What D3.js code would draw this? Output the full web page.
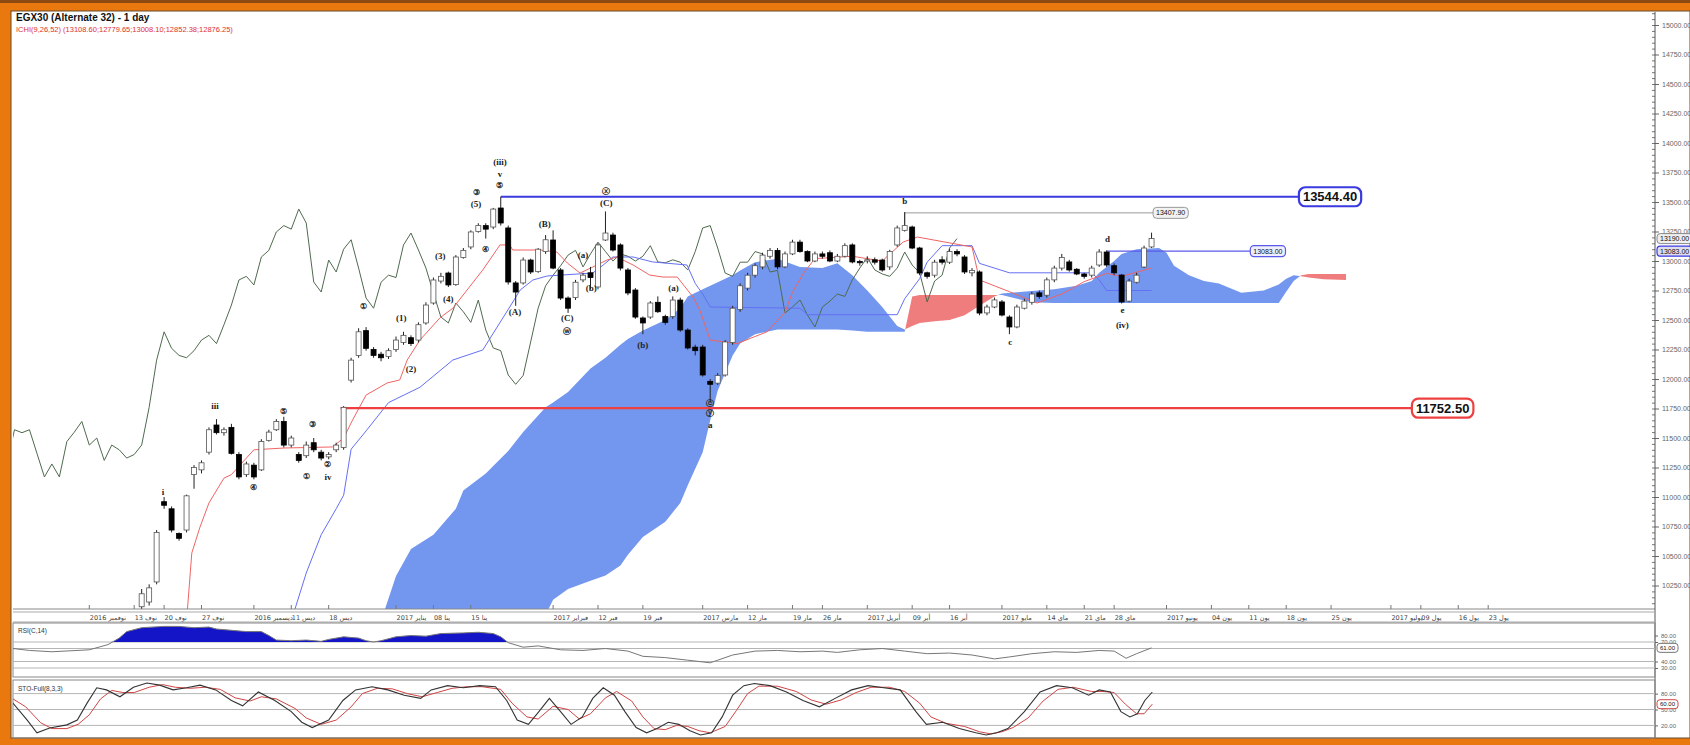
<!DOCTYPE html>
<html><head><meta charset="utf-8">
<script src="https://cdn.jsdelivr.net/npm/d3@7"></script>
<style>html,body{margin:0;padding:0;background:#fff;overflow:hidden}</style>
</head><body>
<svg id="c" width="1690" height="745"></svg>
<script>
// ---------------- DATA ----------------
const open  = [10070,10110,10280,10960,10900,10690,10720,11190,11230,11380,11610,11545,11590,11360,11190,11270,11230,11480,11570,11640,11440,11360,11350,11460,11380,11340,11400,11420,11990,12200,12410,12250,12210,12190,12250,12310,12350,12330,12475,12644,12830,12898,12800,13030,13119,13250,13300,13288,13449,13280,12814,12814,13008,12910,13080,13178,12924,12686,12690,12840,12900,12780,13178,13220,13136,12924,12754,12517,12525,12650,12530,12530,12669,12415,12270,12271,11980,11965,12034,12310,12590,12770,12880,12950,13040,13090,12950,13060,13160,13080,13000,13060,13070,13000,13040,13136,12995,13000,13010,13008,12950,13136,13260,13288,13110,12900,12880,13010,12990,13080,13034,12900,12907,12560,12610,12653,12525,12441,12600,12650,12730,12710,12840,12940,12992,12930,12890,12880,12966,13076,12960,12881,12660,12820,12949,13119];
const high  = [10220,10260,10720,11000,10920,10700,11020,11270,11310,11590,11660,11590,11620,11380,11300,11290,11490,11570,11660,11680,11520,11380,11470,11500,11400,11380,11460,11770,12180,12430,12440,12270,12230,12260,12360,12400,12370,12480,12650,12860,12900,12910,13050,13110,13260,13320,13320,13450,13544,13300,12830,13030,13020,13110,13220,13260,12940,12700,12840,12900,12950,13150,13420,13240,13150,12940,12770,12530,12660,12700,12545,12700,12690,12430,12290,12290,12000,12050,12330,12620,12810,12900,12980,13070,13110,13110,13080,13180,13180,13090,13080,13080,13090,13060,13150,13150,13010,13040,13030,13020,13095,13300,13415,13300,13120,12910,13010,13040,13100,13100,13050,12940,12920,12630,12690,12670,12540,12630,12680,12740,12750,12860,12960,13060,13010,12940,12900,12960,13100,13090,12980,12890,12850,12900,13130,13240];
const low   = [10040,10080,10260,10900,10700,10630,10700,11070,11200,11360,11530,11520,11360,11150,11170,11150,11220,11470,11560,11420,11420,11290,11330,11380,11310,11320,11380,11400,11970,12180,12240,12180,12150,12170,12230,12290,12280,12310,12460,12630,12810,12780,12790,13020,13100,13240,13190,13270,13300,12800,12620,12800,12890,12900,13060,12930,12670,12560,12670,12820,12760,12760,13170,13080,12920,12710,12510,12380,12510,12560,12460,12510,12400,12250,12200,12020,11800,11950,12020,12290,12570,12750,12860,12930,13020,12930,12940,13050,13070,12990,12990,13020,12990,12990,13030,12980,12960,12980,12970,12910,12925,13120,13250,13100,12880,12850,12860,12970,12975,13040,12890,12870,12540,12540,12600,12530,12380,12430,12590,12630,12680,12690,12820,12920,12910,12880,12850,12860,12950,12950,12880,12640,12650,12810,12940,13110];
const close = [10180,10230,10700,10930,10720,10650,11010,11250,11290,11570,11545,11570,11370,11170,11280,11170,11470,11550,11640,11440,11500,11310,11440,11400,11330,11360,11440,11760,12160,12400,12260,12200,12180,12240,12330,12370,12300,12460,12627,12839,12870,12797,13034,13090,13246,13300,13270,13440,13322,12822,12737,13008,12907,13100,13180,12940,12686,12600,12820,12880,12860,13136,13237,13093,12940,12729,12525,12475,12644,12570,12480,12669,12415,12263,12240,12034,11955,12030,12314,12600,12790,12880,12960,13050,13090,12950,13060,13160,13080,13000,13060,13040,13000,13040,13130,12992,12985,13010,12990,12924,13080,13280,13300,13110,12898,12870,12990,12990,13080,13060,12907,12920,12559,12610,12670,12542,12441,12610,12660,12720,12700,12840,12940,13030,12924,12890,12870,12940,13076,12966,12900,12653,12830,12880,13110,13190];

// Ichimoku lines: [bar index, value]
const tenkan = [[6,9950],[6.7,10525],[7.8,10746],[9,10950],[11,11160],[12,11190],[15,11400],[19,11415],[25.5,11424],[27,11500],[28.2,11653],[30,11864],[32.8,11966],[34.5,11992],[35.5,12161],[37.2,12330],[39.9,12520],[41.6,12600],[43.5,12754],[45.6,12924],[47.9,13136],[49.2,13136],[49.6,13093],[53.3,13093],[55.5,13076],[56.9,12983],[58.6,12898],[60.3,12949],[62.2,13008],[63.5,13034],[65.7,12966],[67.9,12881],[69.7,12864],[71.6,12864],[73.7,12695],[74.6,12585],[76,12330],[79.6,12300],[83.6,12400],[86,12565],[87,12735],[88.5,12900],[90,13020],[95,13040],[99,13000],[101.8,13161],[103.7,13203],[111,13119],[112,12839],[116,12740],[119.7,12644],[123,12720],[126,12825],[129,12895],[131,12870],[135,12940]];
const kijun  = [[20,9950],[22,10356],[24,10680],[26,10900],[27,11015],[28,11405],[30,11560],[33,11800],[37.2,11930],[41.6,12161],[45.6,12246],[49.2,12610],[50.6,12754],[52.3,12839],[54.2,12873],[60.3,12898],[61.7,12966],[63,13034],[65.7,13034],[68.3,12992],[72.9,12966],[74,12810],[75,12720],[76,12610],[88,12600],[89,12545],[101,12545],[102,12680],[104,12850],[105,12990],[107,13130],[111,13130],[112,12980],[116,12900],[127,12900],[128,12840],[129,12750],[135,12750]];
const cloudIdx = [32,34,36,39,42,43,46,49,51,54,55,57,60,62,64,65,67,70,72,73,75,76,77,78,79,80,82,85,88,91,93,95,97,99,101,102,103,104,106,108,110,112,114,115,117,119,122,125,127,128,130,131,133,136,137,138,140,142,144,147,150,152,153,154,155,156,158,161];
const spanA = [9950,10330,10560,10680,10900,11056,11200,11390,11550,11760,11800,11890,12090,12180,12290,12340,12410,12500,12600,12700,12760,12790,12820,12850,12880,12920,12990,13020,12950,12940,12980,12880,12750,12610,12450,12420,12450,12475,12490,12500,12540,12620,12700,12725,12735,12745,12760,12790,12830,12900,13000,13060,13100,13110,13070,12960,12880,12830,12810,12730,12750,12800,12850,12880,12870,12860,12845,12840];
const spanB = [9600,9650,9700,9750,9800,9820,9860,9900,9950,10000,10130,10220,10290,10335,10420,10510,10660,10790,10950,11100,11380,11650,11900,12050,12200,12300,12380,12420,12420,12420,12420,12410,12400,12400,12400,12400,12700,12712,12712,12712,12712,12712,12712,12712,12680,12650,12644,12644,12644,12644,12644,12644,12644,12644,12644,12644,12644,12644,12644,12644,12644,12644,12740,12830,12880,12890,12890,12890];

const rsi = [[-17.2,60],[-15,57],[-12,55],[-7,58],[-4.5,66],[-3,76],[-2,86],[0,92],[3,94],[5,94],[7,92],[9,93],[10,90],[12,88],[14,86],[16,86],[17,80],[18,73],[20,72],[22,73],[24,71],[25,74],[27,78],[29,76],[30,72],[31,70],[32,72],[34,78],[36,80],[38,79],[40,83],[43,84],[45,85],[47,83],[48,78],[49,69],[51,62],[53,64],[56,58],[59,57],[62,60],[65,56],[67,48],[70,46],[73,42],[76,38],[79,50],[82,56],[85,57],[88,55],[91,56],[93,54],[96,58],[99,60],[102,56],[105,52],[108,53],[111,50],[114,44],[116,47],[119,52],[122,55],[125,54],[128,57],[130,56],[131.6,45],[133,52],[135,61]];
const stoK = [[-18.9,68],[-17.2,62],[-15.3,30],[-14,6],[-12.3,15],[-10,21],[-8.6,30],[-7.3,62],[-6,91],[-4.7,87],[-2.9,74],[-1.1,92],[0.7,100],[2.4,96],[4.2,87],[6,91],[7.8,96],[9.9,87],[12,67],[13.5,57],[15.6,83],[17.8,67],[20,46],[21.4,26],[22.8,16],[25,30],[26.9,67],[28.6,87],[30.8,93],[32.9,87],[35.1,77],[37.3,71],[38.7,87],[40.9,95],[43,91],[45.2,95],[47.3,93],[48.8,67],[50.2,30],[51.7,22],[53.1,46],[54.5,71],[56,46],[57.4,22],[58.9,36],[60.3,71],[61.7,91],[63.2,77],[64.6,46],[66.1,16],[67.5,6],[68.9,14],[70.4,26],[71.8,22],[73.3,10],[74.7,2],[76.2,6],[77.6,36],[79,77],[80.5,95],[81.9,99],[84,95],[86.2,83],[88.4,67],[90.6,55],[92.7,71],[94.9,87],[97.1,95],[99.2,91],[101.4,87],[103.5,46],[104.9,22],[107.1,26],[109.3,14],[111.5,6],[112.9,2],[114.3,6],[115.8,14],[118,46],[120.1,83],[122.3,95],[124.4,91],[126.6,77],[128,87],[129.5,83],[130.9,46],[132.1,36],[133.1,42],[134.1,67],[135.1,83]];
const stoD = [[-17.2,70],[-15.5,55],[-13.5,25],[-12,14],[-10,14],[-8.5,22],[-7,40],[-5.5,70],[-4,86],[-2.5,82],[-1,82],[1,92],[2.8,97],[4.5,92],[6.5,90],[8.5,92],[10.5,88],[12.5,72],[14.5,66],[16,74],[18,70],[20.5,52],[22,34],[24,22],[26,30],[28,55],[29.5,80],[31.5,90],[33.5,89],[35.5,80],[37.5,74],[39.5,82],[41.5,90],[43.5,93],[45.5,93],[48,88],[49.5,62],[51.5,36],[53,32],[55,56],[57,50],[58.5,32],[60,42],[62,72],[63.5,84],[65.5,66],[67,36],[68.5,14],[70,12],[71.5,20],[73,18],[74.5,10],[76,6],[78,18],[79.5,48],[81,80],[82.5,94],[85,94],[87.5,84],[89.5,68],[91.5,60],[93.5,68],[95.5,82],[97.5,92],[100,92],[102,84],[104,62],[105.5,36],[107.5,24],[110,18],[112,8],[113.5,4],[115,8],[116.5,16],[118.5,34],[120.5,66],[122.5,88],[124.5,92],[127,84],[128.5,84],[130,82],[131.5,60],[133,42],[134,42],[135.1,60]];

const priceTicks = [10250,10500,10750,11000,11250,11500,11750,12000,12250,12500,12750,13000,13250,13500,13750,14000,14250,14500,14750,15000];
const rsiTicks = [80,70,40,30];
const stoTicks = [80,50,20];
const tickIdx  = [-7,-1,3,8,15,20,25,34,39,44,55,61,67,75,81,87,91,97,103,108,115,121,126,130,137,143,148,153,159,167,171,176,180];
const tickText = ["2016 نوفمبر","13 نوف","20 نوف","27 نوف","2016 ديسمبر","11 ديس","18 ديس","2017 يناير","08 ينا","15 ينا","2017 فبراير","12 فبر","19 فبر","2017 مارس","12 مار","19 مار","26 مار","2017 أبريل","09 أبر","16 أبر","2017 مايو","14 ماي","21 ماي","28 ماي","2017 يونيو","04 يون","11 يون","18 يون","25 يون","2017 يوليو","09 يول","16 يول","23 يول"];

const levels = [13544.40, 11752.50, 13407.90, 13083.00];

const waveIdx = [47.9,47.9,47.9,44.7,44.7,45.9,39.9,41,34.7,36,29.6,49.9,53.9,56.9,56.9,59,60.1,62.1,62.1,71.1,67,76,76,76,102,116.1,129.1,131.1,131.1,2.85,9.8,14.9,18.9,22.9,22.1,24.9,24.9];
const waveVal = [13831,13729,13636,13576,13475,13093,13034,12669,12508,12076,12610,12559,13305,12508,12398,13042,12763,13585,13483,12763,12280,11790,11700,11600,13500,12305,13178,12576,12449,11034,11763,11076,11720,11610,11169,11271,11160];
const waveText = ["(iii)","v","⑤","③","(5)","④","(3)","(4)","(1)","(2)","①","(A)","(B)","(C)","ⓦ","(a)","(b)","ⓧ","(C)","(a)","(b)","ⓒ","ⓨ","a","b","c","d","e","(iv)","i","iii","④","⑤","③","①","②","iv"];

// ---------------- SCALES ----------------
const W = 1690, H = 745;
const PX0 = 13, PX1 = 1655, PY0 = 12, PY1 = 609;
const RY0 = 623, RY1 = 677, SY0 = 680, SY1 = 738;
const xi = d3.scaleLinear().domain([-17.2, 202.3]).range([PX0, PX1]);
const yP = d3.scaleLinear().domain([10250, 15000]).range([585.5, 25]);
const yR = d3.scaleLinear().domain([30, 70]).range([668, 642]);
const yS = d3.scaleLinear().domain([0, 100]).range([736, 683]);

const svg = d3.select('#c');
const defs = svg.append('defs');

// frame
svg.append('rect').attr('width', W).attr('height', H).attr('fill', '#e9780f');
svg.append('rect').attr('width', W).attr('height', 3).attr('fill', '#8c4a12');
svg.append('rect').attr('x', 11).attr('y', 11).attr('width', W - 11).attr('height', SY1 - 11)
  .attr('fill', '#fff').attr('stroke', '#6b4a2a').attr('stroke-width', 1);

// clip paths
defs.append('clipPath').attr('id', 'clipP').append('rect')
  .attr('x', PX0).attr('y', PY0).attr('width', PX1 - PX0).attr('height', PY1 - PY0);
defs.append('clipPath').attr('id', 'clipR').append('rect')
  .attr('x', PX0).attr('y', RY0).attr('width', PX1 - PX0).attr('height', RY1 - RY0);
defs.append('clipPath').attr('id', 'clipS').append('rect')
  .attr('x', PX0).attr('y', SY0).attr('width', PX1 - PX0).attr('height', SY1 - SY0);

// ---------------- PRICE PANEL ----------------
const gP = svg.append('g').attr('clip-path', 'url(#clipP)');
const cloud = cloudIdx.map((d, k) => ({ i: d, a: spanA[k], b: spanB[k] }));
defs.append('clipPath').attr('id', 'belowA').append('path').datum(cloud)
  .attr('d', d3.area().x(d => xi(d.i)).y0(d => yP(d.a)).y1(PY1 + 200));
defs.append('clipPath').attr('id', 'aboveA').append('path').datum(cloud)
  .attr('d', d3.area().x(d => xi(d.i)).y0(PY0 - 50).y1(d => yP(d.a)));
gP.append('path').datum(cloud).attr('clip-path', 'url(#belowA)')
  .attr('d', d3.area().x(d => xi(d.i)).y0(PY0 - 50).y1(d => yP(d.b)))
  .attr('fill', '#7396ef');
gP.append('path').datum(cloud).attr('clip-path', 'url(#aboveA)')
  .attr('d', d3.area().x(d => xi(d.i)).y0(d => yP(d.b)).y1(PY1 + 200))
  .attr('fill', '#f07d7d');

const ln = d3.line().x(d => xi(d[0])).y(d => yP(d[1]));
// chikou: closes plotted 26 bars back
const chikou = close.map((c, k) => [k - 26, c]);
gP.append('path').datum(chikou).attr('d', ln).attr('fill', 'none')
  .attr('stroke', '#4f6a4f').attr('stroke-width', 1);
gP.append('path').datum(kijun).attr('d', ln).attr('fill', 'none')
  .attr('stroke', '#6470f2').attr('stroke-width', 1);
gP.append('path').datum(tenkan).attr('d', ln).attr('fill', 'none')
  .attr('stroke', '#f06464').attr('stroke-width', 1);

// level lines
const lvl = [
  { v: levels[0], a: 48, b: 154.7, col: '#3a3ae0', w: 2.2 },
  { v: levels[1], a: 26.6, b: 169.8, col: '#ee4040', w: 2.2 },
  { v: levels[2], a: 102, b: 135.2, col: '#999', w: 1 },
  { v: levels[3], a: 129, b: 148.2, col: '#5a5ae8', w: 1.2 }
];
lvl.forEach(L => {
  gP.append('line').attr('x1', xi(L.a)).attr('x2', xi(L.b))
    .attr('y1', yP(L.v)).attr('y2', yP(L.v))
    .attr('stroke', L.col).attr('stroke-width', L.w);
});
gP.append('line').attr('x1', xi(102)).attr('x2', xi(102)).attr('y1', yP(levels[2])).attr('y2', yP(13300))
  .attr('stroke', '#999').attr('stroke-width', 1);

// candles
const bars = d3.range(close.length);
gP.selectAll('line.wick').data(bars).join('line').attr('class', 'wick')
  .attr('x1', i => xi(i)).attr('x2', i => xi(i))
  .attr('y1', i => yP(high[i])).attr('y2', i => yP(low[i]))
  .attr('stroke', '#222').attr('stroke-width', 1);
const bw = 5;
gP.selectAll('rect.body').data(bars).join('rect').attr('class', 'body')
  .attr('x', i => xi(i) - bw / 2).attr('width', bw)
  .attr('y', i => yP(Math.max(open[i], close[i])))
  .attr('height', i => Math.max(1, Math.abs(yP(open[i]) - yP(close[i]))))
  .attr('fill', i => close[i] >= open[i] ? '#fff' : '#000')
  .attr('stroke', i => close[i] >= open[i] ? '#555' : '#000').attr('stroke-width', 0.8);

// wave labels
gP.selectAll('text.wave').data(waveText).join('text').attr('class', 'wave')
  .attr('x', (t, k) => xi(waveIdx[k])).attr('y', (t, k) => yP(waveVal[k]))
  .attr('text-anchor', 'middle').attr('dominant-baseline', 'middle')
  .attr('font-family', 'Liberation Serif, serif').attr('font-weight', 'bold')
  .attr('font-size', t => /[①-⑨ⓐ-ⓩ]/.test(t) ? 8 : 9).attr('fill', '#222').text(t => t);

// level label boxes
function box(g, cx0, cy, txt, fs, stroke, sw, bold, padX, hgt, fill) {
  const t = g.append('text').attr('x', cx0 + padX).attr('y', cy).attr('dominant-baseline', 'central')
    .attr('font-family', 'Liberation Sans, Arial, sans-serif').attr('font-size', fs)
    .attr('font-weight', bold ? 'bold' : 'normal').attr('fill', '#111').text(txt);
  const w = t.node().getComputedTextLength() + padX * 2;
  g.insert('rect', 'text').attr('x', cx0).attr('y', cy - hgt / 2).attr('width', w).attr('height', hgt)
    .attr('rx', hgt / 3).attr('fill', fill || '#fff').attr('stroke', stroke).attr('stroke-width', sw);
}
const gB1 = svg.append('g'); box(gB1, xi(154.7), yP(levels[0]), levels[0].toFixed(2), 13, '#3a3ae0', 2.2, true, 4, 19);
const gB2 = svg.append('g'); box(gB2, xi(169.8), yP(levels[1]), levels[1].toFixed(2), 13, '#ee4040', 2.2, true, 4, 19);
const gB3 = svg.append('g'); box(gB3, xi(135.2), yP(levels[2]), levels[2].toFixed(2), 7, '#999', 1, false, 3, 11, '#f2f2f2');
const gB4 = svg.append('g'); box(gB4, xi(148.2), yP(levels[3]), levels[3].toFixed(2), 7, '#5a5ae8', 1.2, false, 3, 11, '#eef');

// title
svg.append('text').attr('x', 16).attr('y', 21).attr('font-family', 'Liberation Sans, Arial, sans-serif')
  .attr('font-size', 10).attr('font-weight', 'bold').attr('fill', '#111').text('EGX30 (Alternate 32) - 1 day');
svg.append('text').attr('x', 16).attr('y', 32).attr('font-family', 'Liberation Sans, Arial, sans-serif')
  .attr('font-size', 7.5).attr('fill', '#e03030').text('ICHI(9,26,52) (13108.60;12779.65;13008.10;12852.38;12876.25)');

// price panel border
svg.append('line').attr('x1', PX0).attr('x2', PX1).attr('y1', PY1).attr('y2', PY1).attr('stroke', '#888');

// right price axis
const axP = svg.append('g').attr('transform', `translate(${PX1},0)`)
  .call(d3.axisRight(yP).tickValues(priceTicks).tickSize(4).tickPadding(3).tickFormat(d3.format('.2f')));
axP.select('.domain').remove();
axP.selectAll('text').attr('font-size', 7).attr('fill', '#666').attr('font-family', 'Liberation Sans, Arial, sans-serif');
axP.selectAll('line').attr('stroke', '#666');
const minor = d3.range(10100, 15101, 50);
const axM = svg.append('g').attr('transform', `translate(${PX1},0)`)
  .call(d3.axisLeft(yP).tickValues(minor).tickSize(3).tickFormat(''));
axM.select('.domain').remove();
axM.selectAll('line').attr('stroke', '#777');
svg.append('line').attr('x1', PX1).attr('x2', PX1).attr('y1', PY0).attr('y2', SY1).attr('stroke', '#555');
// current price markers
const gCur = svg.append('g');
box(gCur, PX1 + 2, yP(close[close.length - 1]), close[close.length - 1].toFixed(2), 7, '#888', 1, false, 3, 10, '#eee');
const gCur2 = svg.append('g');
box(gCur2, PX1 + 2, yP(levels[3]), levels[3].toFixed(2), 7, '#3a3ae0', 1.2, false, 3, 10, '#dde');

// ---------------- DATE AXIS ----------------
svg.append('line').attr('x1', PX0).attr('x2', PX1).attr('y1', 612).attr('y2', 612).attr('stroke', '#aaa');
svg.append('line').attr('x1', PX0).attr('x2', PX1).attr('y1', 622).attr('y2', 622).attr('stroke', '#aaa');
const axD = svg.append('g').attr('transform', 'translate(0,612)')
  .call(d3.axisBottom(xi).tickValues(tickIdx).tickSize(0).tickPadding(3).tickFormat((d, k) => tickText[k]));
axD.select('.domain').remove();
axD.selectAll('text').attr('font-size', 6.5).attr('fill', '#444').attr('text-anchor', 'start')
  .attr('font-family', 'DejaVu Sans, sans-serif');
svg.selectAll('line.dtick').data(tickIdx).join('line').attr('class', 'dtick')
  .attr('x1', d => xi(d)).attr('x2', d => xi(d)).attr('y1', PY1 - 4).attr('y2', PY1).attr('stroke', '#777');

// ---------------- RSI PANEL ----------------
svg.append('rect').attr('x', PX0).attr('y', RY0).attr('width', PX1 - PX0).attr('height', RY1 - RY0)
  .attr('fill', 'none').attr('stroke', '#888');
const gR = svg.append('g').attr('clip-path', 'url(#clipR)');
[70, 60, 40, 30].forEach(v => gR.append('line').attr('x1', PX0).attr('x2', PX1)
  .attr('y1', yR(v)).attr('y2', yR(v)).attr('stroke', '#b5b5b5'));
defs.append('clipPath').attr('id', 'rsiTop').append('rect')
  .attr('x', PX0).attr('y', RY0).attr('width', PX1 - PX0).attr('height', yR(70) - RY0);
gR.append('path').datum(rsi).attr('clip-path', 'url(#rsiTop)')
  .attr('d', d3.area().x(d => xi(d[0])).y0(yR(70)).y1(d => yR(d[1])))
  .attr('fill', '#1515c8');
gR.append('path').datum(rsi).attr('d', d3.line().x(d => xi(d[0])).y(d => yR(d[1])))
  .attr('fill', 'none').attr('stroke', '#777').attr('stroke-width', 1);
svg.append('text').attr('x', 18).attr('y', 633).attr('font-size', 6.5).attr('fill', '#333')
  .attr('font-family', 'Liberation Sans, Arial, sans-serif').text('RSI(C,14)');
const axR = svg.append('g').attr('transform', `translate(${PX1},0)`)
  .call(d3.axisRight(yR).tickValues(rsiTicks).tickSize(3).tickPadding(3).tickFormat(d3.format('.2f')));
axR.select('.domain').remove();
axR.selectAll('text').attr('font-size', 6).attr('fill', '#666');
axR.selectAll('line').attr('stroke', '#666');
const gRb = svg.append('g');
box(gRb, PX1 + 2, yR(rsi[rsi.length - 1][1]), rsi[rsi.length - 1][1].toFixed(2), 6, '#777', 1, false, 3, 9);

// ---------------- STOCHASTIC PANEL ----------------
svg.append('rect').attr('x', PX0).attr('y', SY0).attr('width', PX1 - PX0).attr('height', SY1 - SY0)
  .attr('fill', 'none').attr('stroke', '#888');
const gS = svg.append('g').attr('clip-path', 'url(#clipS)');
[80, 50, 20].forEach(v => gS.append('line').attr('x1', PX0).attr('x2', PX1)
  .attr('y1', yS(v)).attr('y2', yS(v)).attr('stroke', '#b5b5b5'));
const lS = d3.line().x(d => xi(d[0])).y(d => yS(d[1]));
gS.append('path').datum(stoD).attr('d', lS).attr('fill', 'none').attr('stroke', '#d04545').attr('stroke-width', 1);
gS.append('path').datum(stoK).attr('d', lS).attr('fill', 'none').attr('stroke', '#333').attr('stroke-width', 1.1);
svg.append('text').attr('x', 18).attr('y', 691).attr('font-size', 6.5).attr('fill', '#333')
  .attr('font-family', 'Liberation Sans, Arial, sans-serif').text('STO-Full(8,3,3)');
const axS = svg.append('g').attr('transform', `translate(${PX1},0)`)
  .call(d3.axisRight(yS).tickValues(stoTicks).tickSize(3).tickPadding(3).tickFormat(d3.format('.2f')));
axS.select('.domain').remove();
axS.selectAll('text').attr('font-size', 6).attr('fill', '#666');
axS.selectAll('line').attr('stroke', '#666');
const gSb = svg.append('g');
box(gSb, PX1 + 2, yS(stoD[stoD.length - 1][1]), stoD[stoD.length - 1][1].toFixed(2), 6, '#d04545', 1, false, 3, 9);
</script>
</body></html>
